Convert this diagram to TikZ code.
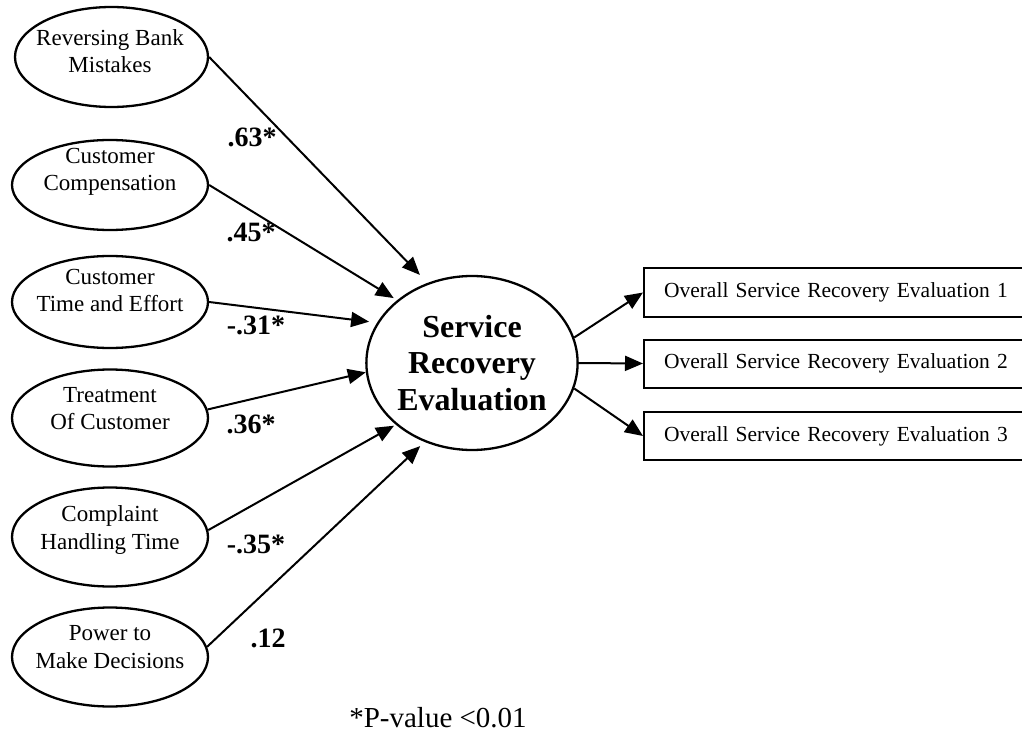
\documentclass[tikz,border=0pt]{standalone}
\usepackage{fontspec}
\setmainfont{Liberation Serif}
\usetikzlibrary{shapes.geometric,arrows.meta}

\begin{document}
\begin{tikzpicture}[x=1pt,y=-1pt,line width=2pt,
 		factor/.style={ellipse,draw,line width=2.3pt,minimum width=196pt,minimum height=96pt,inner sep=0pt},
 		ftext/.style={align=center,inner sep=0pt,font=\fontsize{23}{27.5}\selectfont},
 		coef/.style={inner sep=0pt,font=\fontsize{28}{30}\selectfont\bfseries},
 		indic/.style={draw,anchor=west,minimum height=48pt,inner xsep=20pt,text width=360pt,align=left,font=\fontsize{21.5}{24}\selectfont},
 		link/.style={-{Triangle[length=18pt,width=15pt]}}]
 		
 		% Define positions.
 		\def\fx{110}        %x of the factor ellipses.
 		\def\bx{643}        %left edge of the indicator boxes.
 		
 		\useasboundingbox (0,0) rectangle (1022,735);
 		\clip (0,0) rectangle (1022,735);       %boxes run off the right edge.
 		
 		% FACTORS
 		\node[factor,minimum width=193pt,minimum height=100pt] (rbm) at (111.5,57) {};
 		\node[ftext] (rbmt) at (\fx,51) {Reversing Bank\\Mistakes};
 		\node[factor,minimum height=90pt] (cc) at (\fx,185) {};
 		\node[ftext] (cct) at (\fx,172) {Customer\\Compensation};
 		\node[factor,minimum height=92pt] (cte) at (\fx,302) {};
 		\node[ftext] (ctet) at (\fx,290.5) {Customer\\Time and Effort};
 		\node[factor,minimum height=97pt] (toc) at (\fx,418) {};
 		\node[ftext] (toct) at (\fx,408.5) {Treatment\\Of Customer};
 		\node[factor,minimum height=99pt] (cht) at (\fx,537) {};
 		\node[ftext] (chtt) at (\fx,530) {Complaint\\Handling Time};
 		\node[factor,minimum height=99pt] (ptmd) at (\fx,657) {};
 		\node[ftext] (ptmdt) at (\fx,647) {Power to\\Make Decisions};
 		
 		% SERVICE RECOVERY EVALUATION
 		\node[ellipse,draw,line width=2.3pt,minimum width=195pt,minimum height=174pt,inner sep=0pt,align=center,
 			font=\fontsize{32}{36.5}\selectfont\bfseries] (sre) at (472,363) {Service\\Recovery\\Evaluation};
 		
 		% INDICATORS
 		\node[indic] (osre1) at (\bx,292.5) {Overall Service Recovery Evaluation 1};
 		\node[indic] (osre2) at (\bx,363.5) {Overall Service Recovery Evaluation 2};
 		\node[indic] (osre3) at (\bx,436) {Overall Service Recovery Evaluation 3};
 		
 		% Paths and coefficients.
 		\draw[link,shorten >=11pt] (rbm.east) -- (sre.119);
 		\draw[link,shorten >=4pt] (cc.east) -- (sre.140);
 		\draw[link,shorten >=8pt] (cte.east) -- (sre.157);
 		\draw[link] (toc.5) -- (sre.185);
 		\draw[link,shorten >=2pt] (cht.4) -- (sre.219);
 		\draw[link,shorten >=6pt] (ptmd.6) -- (sre.239);
 		\node[coef] (c1) at (252,137) {.63*};
 		\node[coef] (c2) at (251,232) {.45*};
 		\node[coef] (c3) at (256,325) {-.31*};
 		\node[coef] (c4) at (251,424) {.36*};
 		\node[coef] (c5) at (256,544) {-.35*};
 		\node[coef] (c6) at (268,638) {.12};
 		\draw[link] (sre.14) -- (osre1.west);
 		\draw[link] (sre.east) -- (osre2.west);
 		\draw[link] (sre.-14) -- (osre3.west);
 		
 		% Significance note.
 		\node[inner sep=0pt,font=\fontsize{29}{32}\selectfont] (note) at (438,718) {*P-value <0.01};
 		\end{tikzpicture}
\end{document}
